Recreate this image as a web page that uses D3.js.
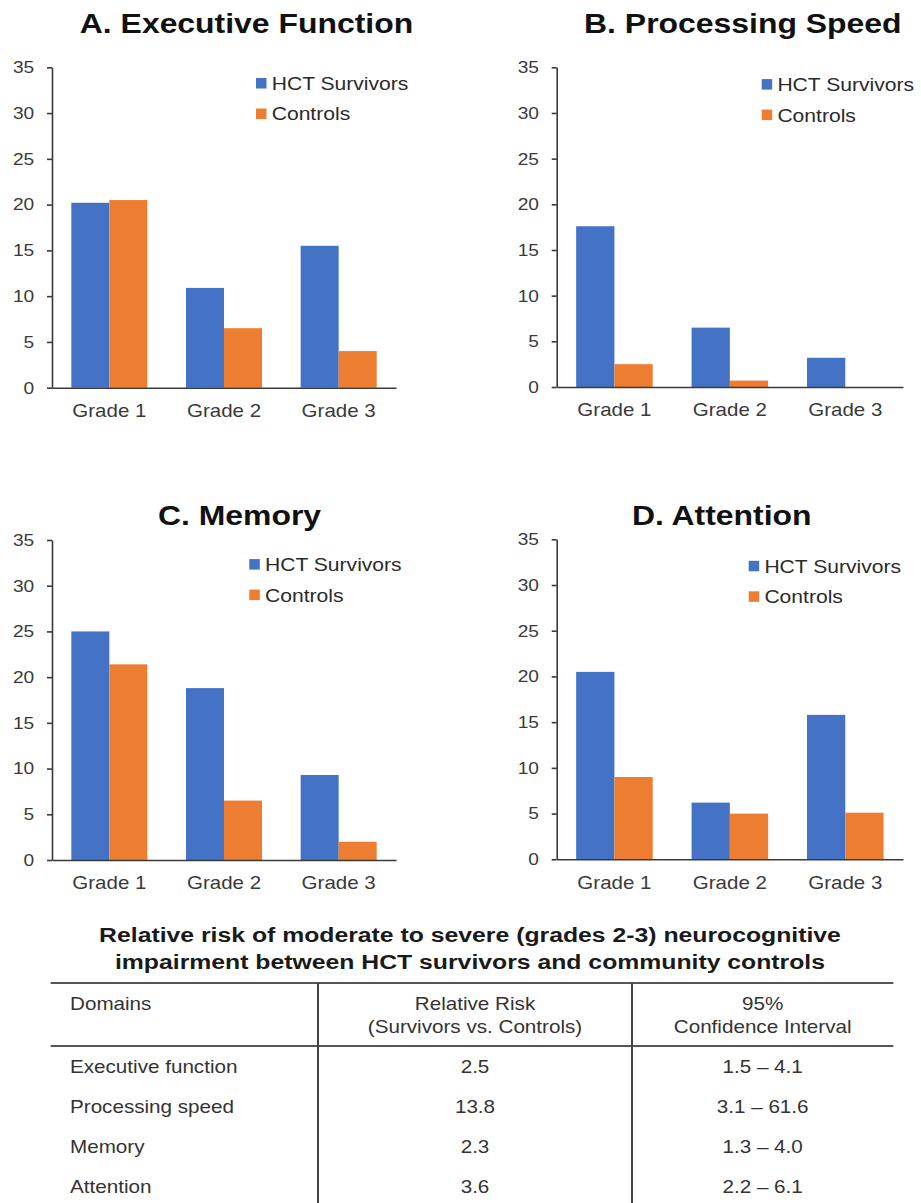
<!DOCTYPE html>
<html>
<head>
<meta charset="utf-8">
<script src="https://cdn.jsdelivr.net/npm/d3@7"></script>
<style>
  html, body { margin: 0; padding: 0; background: #fff; }
  svg { display: block; font-family: "Liberation Sans", Arial, sans-serif; }
</style>
</head>
<body>
<svg id="chart" width="921" height="1203"></svg>
<script>
// ---- data ----
const grades = ["Grade 1", "Grade 2", "Grade 3"];
const seriesNames = ["HCT Survivors", "Controls"];
const panelTitles = ["A. Executive Function", "B. Processing Speed", "C. Memory", "D. Attention"];
const yTicks = [0, 5, 10, 15, 20, 25, 30, 35];

const execSurvivors = [20.2, 10.9, 15.5];
const execControls = [20.5, 6.5, 4.0];
const speedSurvivors = [17.6, 6.5, 3.2];
const speedControls = [2.5, 0.7, 0];
const memorySurvivors = [25.0, 18.8, 9.3];
const memoryControls = [21.4, 6.5, 2.0];
const attentionSurvivors = [20.5, 6.2, 15.8];
const attentionControls = [9.0, 5.0, 5.1];

const tableTitle = [
  "Relative risk of moderate to severe (grades 2-3) neurocognitive",
  "impairment between HCT survivors and community controls"
];
const tableHeaders = [["Domains"], ["Relative Risk", "(Survivors vs. Controls)"], ["95%", "Confidence Interval"]];
const tableDomains = ["Executive function", "Processing speed", "Memory", "Attention"];
const relativeRisk = ["2.5", "13.8", "2.3", "3.6"];
const confidenceInterval = ["1.5 \u2013 4.1", "3.1 \u2013 61.6", "1.3 \u2013 4.0", "2.2 \u2013 6.1"];

// ---- styles & layout ----
const colors = ["#4472C4", "#ED7D31"];
const axisColor = "#3a3a3a";
const textColor = "#333333";
const chartStretch = 1.14;   // glyphs in the charts are drawn slightly wide
const tableStretch = 1.18;

const panelSeries = [
  [execSurvivors, execControls],
  [speedSurvivors, speedControls],
  [memorySurvivors, memoryControls],
  [attentionSurvivors, attentionControls]
];

const panelLayout = [
  { x0: 52,    x1: 396, yTop: 67.3,  y0: 387.7, titleX: 246.5, titleY: 33.3,  legendX: 256,   legendY: 83.2 },
  { x0: 556.7, x1: 903, yTop: 67.3,  y0: 387.0, titleX: 742.8, titleY: 33.3,  legendX: 761.7, legendY: 84.3 },
  { x0: 52,    x1: 396, yTop: 540.0, y0: 860.0, titleX: 239.5, titleY: 525.0, legendX: 249.3, legendY: 564.3 },
  { x0: 556.7, x1: 903, yTop: 539.3, y0: 859.3, titleX: 721.7, titleY: 524.5, legendX: 748.7, legendY: 566.0 }
];

const svg = d3.select("#chart");
svg.append("rect").attr("width", 921).attr("height", 1203).attr("fill", "#fff");

// text helper with horizontal glyph stretch
function stext(parent, x, y, str, o) {
  return parent.append("text")
    .attr("transform", `translate(${x},${y}) scale(${o.sx || 1},1)`)
    .attr("text-anchor", o.anchor || "start")
    .attr("font-size", o.size)
    .attr("font-weight", o.weight || "normal")
    .attr("fill", o.fill || textColor)
    .text(str);
}

// ---- bar panels ----
panelLayout.forEach((L, i) => {
  const g = svg.append("g");
  const series = panelSeries[i];

  const y = d3.scaleLinear().domain([0, 35]).range([L.y0, L.yTop]);
  const x = d3.scaleBand().domain(grades).range([L.x0, L.x1])
    .paddingInner(0.337).paddingOuter(0.337 / 2);
  const xs = d3.scaleBand().domain(d3.range(seriesNames.length)).range([0, x.bandwidth()]);

  // bars
  grades.forEach((grade, gi) => {
    series.forEach((vals, si) => {
      g.append("rect")
        .attr("x", x(grade) + xs(si))
        .attr("y", y(vals[gi]))
        .attr("width", xs.bandwidth())
        .attr("height", y(0) - y(vals[gi]))
        .attr("fill", colors[si]);
    });
  });

  // y axis
  const yAxis = g.append("g")
    .attr("transform", `translate(${L.x0},0)`)
    .call(d3.axisLeft(y).tickValues(yTicks).tickSize(5).tickSizeOuter(0).tickPadding(10.6));
  // x axis
  const xAxis = g.append("g")
    .attr("transform", `translate(0,${L.y0})`)
    .call(d3.axisBottom(x).tickSize(0).tickSizeOuter(0).tickPadding(16.6));

  [yAxis, xAxis].forEach(ax => {
    ax.select(".domain").attr("stroke", axisColor).attr("stroke-width", 1.6);
    ax.selectAll(".tick line").attr("stroke", axisColor).attr("stroke-width", 1.6);
    ax.selectAll(".tick text")
      .attr("font-family", "\"Liberation Sans\", Arial, sans-serif")
      .attr("fill", "#3a3a3a")
      .attr("transform", `scale(${chartStretch},1)`);
  });
  yAxis.selectAll(".tick text").attr("font-size", 16.8);
  xAxis.selectAll(".tick text").attr("font-size", 18).attr("x", 0);

  // title
  stext(g, L.titleX, L.titleY, panelTitles[i], { size: 28, weight: "bold", anchor: "middle", sx: chartStretch, fill: "#111" });

  // legend
  seriesNames.forEach((name, si) => {
    const cy = L.legendY + si * 30.5;
    g.append("rect")
      .attr("x", L.legendX).attr("y", cy - 5.2)
      .attr("width", 10.5).attr("height", 10.5)
      .attr("fill", colors[si]);
    stext(g, L.legendX + 15.7, cy + 6.7, name, { size: 18.5, sx: chartStretch, fill: "#2a2a2a" });
  });
});

// ---- relative risk table ----
const t = svg.append("g");
tableTitle.forEach((line, li) => {
  stext(t, 470, 942 + li * 27, line, { size: 21, weight: "bold", anchor: "middle", sx: 1.18, fill: "#1a1a1a" });
});

const tableLeft = 50.7, tableRight = 893.3, tableTop = 983, headerBottom = 1046;
const colEdges = [318, 632];
const colText = [
  { x: 70, anchor: "start" },
  { x: (colEdges[0] + colEdges[1]) / 2, anchor: "middle" },
  { x: (colEdges[1] + tableRight) / 2, anchor: "middle" }
];

[tableTop, headerBottom].forEach(yy => {
  t.append("line").attr("x1", tableLeft).attr("x2", tableRight).attr("y1", yy).attr("y2", yy)
    .attr("stroke", "#555").attr("stroke-width", 2.2);
});
colEdges.forEach(xx => {
  t.append("line").attr("x1", xx).attr("x2", xx).attr("y1", tableTop).attr("y2", 1203)
    .attr("stroke", "#444").attr("stroke-width", 2);
});

tableHeaders.forEach((lines, ci) => {
  lines.forEach((line, li) => {
    stext(t, colText[ci].x, 1010 + li * 23, line, { size: 17.5, anchor: colText[ci].anchor, sx: tableStretch });
  });
});

const rowY = d3.scalePoint().domain(d3.range(tableDomains.length)).range([1072.7, 1192.7]);
tableDomains.forEach((dom, ri) => {
  const yy = rowY(ri);
  stext(t, colText[0].x, yy, dom, { size: 17.5, anchor: "start", sx: tableStretch });
  stext(t, colText[1].x, yy, relativeRisk[ri], { size: 17.5, anchor: "middle", sx: tableStretch });
  stext(t, colText[2].x, yy, confidenceInterval[ri], { size: 17.5, anchor: "middle", sx: tableStretch });
});
</script>
</body>
</html>
